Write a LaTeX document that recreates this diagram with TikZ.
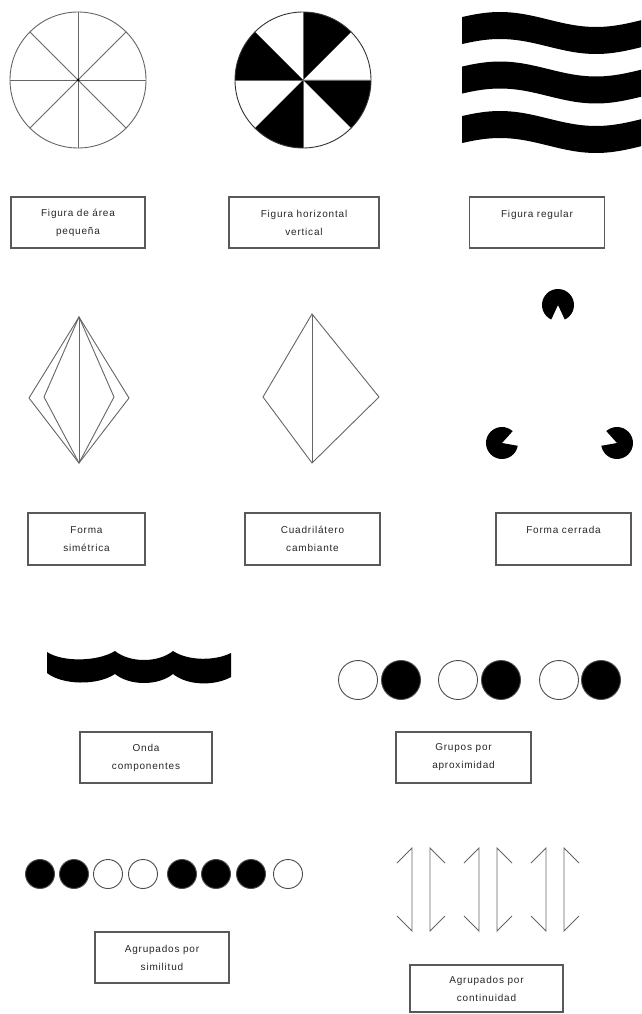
\documentclass[tikz,border=0pt]{standalone}
\usepackage{fontspec}
\setmainfont{Liberation Sans}[LetterSpace=8]
\begin{document}
\begin{tikzpicture}[x=1pt,y=-1pt,
  lbl/.style={draw=black!65, line width=1.1pt, align=center, inner sep=0pt,
    minimum height=51, font=\fontsize{10}{18}\selectfont, text=black!85},
  thin/.style={draw=black!60, line width=0.9pt},
  blk/.style={fill=black, draw=none}]
\useasboundingbox[fill=white] (0,0) rectangle (641,1014);

% ---------- Row 1 ----------
% circle with spokes
\coordinate (c1) at (78,80);
\foreach \a in {0,45,...,315} \draw[thin] (c1) -- ++(\a:68);
\draw[thin] (c1) circle (68);
\fill (c1) circle (1.5);

% circle with black sectors (y axis points down: angles are mirrored)
\coordinate (c2) at (303,80);
\foreach \a in {-90,0,90,-180}
  \fill[blk] (c2) -- ++(\a:68) arc[start angle=\a, end angle=\a+45, radius=68] -- cycle;
\draw[thin] (c2) -- ++(0:68) (c2) -- ++(180:68) (c2) -- ++(90:68) (c2) -- ++(-90:68);
\draw[thin, draw=black!80] (c2) circle (68);

% regular figure: wavy bands
\foreach \b in {33,82.5,132}
  \fill plot[domain=462:641, samples=50, smooth] (\x, {\b - 7.5*cos((\x-500)*1.875) - 13.5})
     -- plot[domain=641:462, samples=50, smooth] (\x, {\b - 7.5*cos((\x-500)*1.875) + 13.5}) -- cycle;

\node[lbl, minimum width=134] (b1) at (78,222.5) {Figura de área\\pequeña};
\node[lbl, minimum width=150] (b2) at (304,222.5) {Figura horizontal\\vertical};
\node[lbl, minimum width=135] (b3) at (537,222.5) {Figura regular\\\mbox{}};

% ---------- Row 2 ----------
\coordinate (d1t) at (79,317); \coordinate (d1b) at (79,463);
\draw[thin] (d1t) -- (29,398) -- (d1b) -- (129,398) -- cycle;
\draw[thin] (d1t) -- (44,397) -- (d1b) -- (114,397) -- cycle;
\draw[thin] (d1t) -- (d1b);

\coordinate (d2t) at (312,314); \coordinate (d2b) at (312,463);
\draw[thin] (d2t) -- (263,397) -- (d2b) -- (379,397) -- cycle;
\draw[thin] (d2t) -- (d2b);

% Kanizsa pacmen (mouths toward the centre of the triangle)
\fill (558,305) -- ++(115:16) arc[start angle=115, end angle=425, radius=16] -- cycle;
\fill (502,443) -- ++(10:16) arc[start angle=10, end angle=312, radius=16] -- cycle;
\fill (617,443) -- ++(-132:16) arc[start angle=-132, end angle=170, radius=16] -- cycle;

\node[lbl, minimum width=117, minimum height=52] (b4) at (86.5,539) {Forma\\simétrica};
\node[lbl, minimum width=135, minimum height=52] (b5) at (312.5,539) {Cuadrilátero\\cambiante};
\node[lbl, minimum width=135, minimum height=52] (b6) at (563.5,539) {Forma cerrada\\\mbox{}};

% ---------- Row 3 ----------
\fill (47,652) .. controls (62,662) and (97,662) .. (115,651)
  .. controls (130,663) and (158,663) .. (173,651)
  .. controls (188,661) and (215,661) .. (231,653)
  -- (231,677)
  .. controls (215,686) and (188,686) .. (173,674)
  .. controls (158,686) and (130,686) .. (115,674)
  .. controls (97,686) and (62,685) .. (47,673) -- cycle;

\foreach \x/\f in {358/white,401/black,458/white,501/black,559/white,601/black}
  \draw[draw=black!70, line width=0.9pt, fill=\f] (\x,680) ellipse[x radius=19.5, y radius=19.5];

\node[lbl, minimum width=132] (b7) at (146,757.5) {Onda\\componentes};
\node[lbl, minimum width=135] (b8) at (463.5,757.5) {Grupos por\\aproximidad};

% ---------- Row 4 ----------
\foreach \x/\f in {40/black,74/black,108/white,143/white,182/black,216/black,251/black,288/white}
  \draw[draw=black!70, line width=0.9pt, fill=\f] (\x,874) ellipse[x radius=14.5, y radius=14.5];

\foreach \x in {412,479,546}{
  \draw[thin] (\x-15,863) -- (\x,848) -- (\x,931) -- (\x-15,916);
  \draw[thin] (\x+33,863) -- (\x+18,848) -- (\x+18,931) -- (\x+33,916);
}

\node[lbl, minimum width=134] (b9) at (162,957.5) {Agrupados por\\similitud};
\node[lbl, minimum width=153, minimum height=47] (b10) at (486.5,988.5) {Agrupados por\\continuidad};
\end{tikzpicture}
\end{document}
